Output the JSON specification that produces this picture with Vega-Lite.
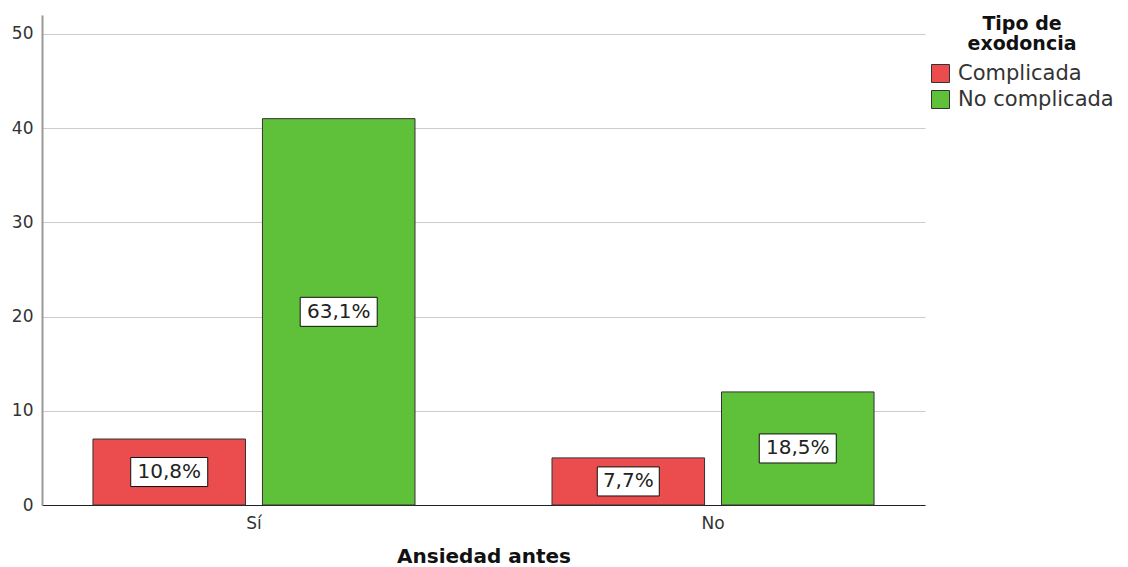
{
  "$schema": "https://vega.github.io/schema/vega-lite/v6.json",
  "width": 883,
  "height": 490,
  "autosize": {"type": "none"},
  "padding": {"left": 42, "top": 15, "right": 203, "bottom": 62},
  "background": "white",
  "config": {"view": {"stroke": null}, "font": "DejaVu Sans"},
  "data": {
    "values": [
      {"ansiedad": "Sí", "tipo": "Complicada", "count": 7, "pct": "10,8%"},
      {"ansiedad": "Sí", "tipo": "No complicada", "count": 41, "pct": "63,1%"},
      {"ansiedad": "No", "tipo": "Complicada", "count": 5, "pct": "7,7%"},
      {"ansiedad": "No", "tipo": "No complicada", "count": 12, "pct": "18,5%"}
    ]
  },
  "transform": [{"calculate": "datum.count/2", "as": "mid"}],
  "encoding": {
    "x": {
      "field": "ansiedad",
      "type": "nominal",
      "sort": ["Sí", "No"],
      "scale": {"paddingInner": 0.2985, "paddingOuter": 0.111},
      "axis": {
        "title": "Ansiedad antes",
        "labelAngle": 0,
        "labelFontSize": 17,
        "labelColor": "#333333",
        "labelPadding": 10,
        "ticks": false,
        "domainColor": "#222222",
        "domainWidth": 1,
        "titleFontSize": 20,
        "titleFontWeight": "bold",
        "titleColor": "#111111",
        "titlePadding": 15
      }
    },
    "xOffset": {
      "field": "tipo",
      "type": "nominal",
      "sort": ["Complicada", "No complicada"],
      "scale": {"paddingInner": 0.1, "paddingOuter": 0}
    }
  },
  "layer": [
    {
      "mark": {"type": "bar", "stroke": "#333333", "strokeWidth": 1},
      "encoding": {
        "y": {
          "field": "count",
          "type": "quantitative",
          "scale": {"domain": [0, 52], "nice": false},
          "axis": {
            "title": null,
            "values": [0, 10, 20, 30, 40, 50],
            "grid": true,
            "gridColor": "#cccccc",
            "gridWidth": 1,
            "ticks": false,
            "domainColor": "#999999",
            "domainWidth": 2,
            "labelFontSize": 17,
            "labelColor": "#333333",
            "labelPadding": 9
          }
        },
        "color": {
          "field": "tipo",
          "type": "nominal",
          "scale": {"domain": ["Complicada", "No complicada"], "range": ["#EB4C4E", "#5FC13A"]},
          "legend": {
            "title": ["Tipo de", "exodoncia"],
            "orient": "none",
            "legendX": 888,
            "legendY": 0,
            "titleFontSize": 19,
            "titleFontWeight": "bold",
            "titleColor": "#111111",
            "titleAlign": "center",
            "titleAnchor": "middle",
            "titleLineHeight": 20,
            "titlePadding": 9,
            "labelFontSize": 21,
            "labelColor": "#333333",
            "labelOffset": 7,
            "symbolType": "square",
            "symbolSize": 324,
            "symbolStrokeColor": "#333333",
            "symbolStrokeWidth": 1,
            "symbolOpacity": 1,
            "rowPadding": 3
          }
        }
      }
    },
    {
      "mark": {"type": "point", "filled": true, "fill": "white", "stroke": "#111111", "strokeWidth": 1, "opacity": 1, "size": 5929},
      "encoding": {
        "y": {"field": "mid", "type": "quantitative"},
        "shape": {
          "condition": {"test": "datum.pct == '7,7%'", "value": "M-0.805,-0.377H0.805V0.377H-0.805Z"},
          "value": "M-1,-0.377H1V0.377H-1Z"
        }
      }
    },
    {
      "mark": {"type": "text", "fontSize": 20, "color": "#222222", "baseline": "middle", "align": "center"},
      "encoding": {
        "y": {"field": "mid", "type": "quantitative"},
        "text": {"field": "pct"}
      }
    }
  ]
}
